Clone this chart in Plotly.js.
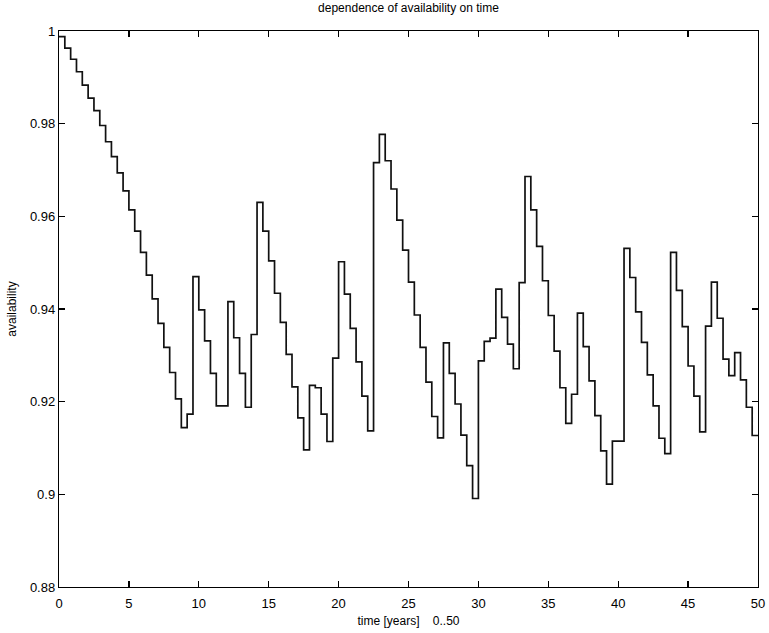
<!DOCTYPE html>
<html>
<head>
<meta charset="utf-8">
<script src="https://cdn.plot.ly/plotly-3.0.1.min.js"></script>
<style>html,body{margin:0;padding:0;background:#fff;}#chart{width:769px;height:633px;}</style>
</head>
<body>
<div id="chart"></div>
<script>
// availability level for each 5-month interval (120 intervals over 0..50 years)
const availability = [
  0.9988, 0.9963, 0.9939, 0.9912, 0.9883, 0.9855, 0.9828, 0.9796, 0.9761, 0.9729,
  0.9694, 0.9655, 0.9614, 0.9568, 0.9522, 0.9473, 0.9422, 0.9369, 0.9317, 0.9263,
  0.9206, 0.9144, 0.9173, 0.9470, 0.9398, 0.9331, 0.9261, 0.9191, 0.9191, 0.9416,
  0.9338, 0.9261, 0.9188, 0.9345, 0.9630, 0.9568, 0.9504, 0.9434, 0.9371, 0.9302,
  0.9232, 0.9165, 0.9096, 0.9235, 0.9230, 0.9173, 0.9114, 0.9294, 0.9502, 0.9432,
  0.9358, 0.9286, 0.9212, 0.9137, 0.9716, 0.9777, 0.9720, 0.9659, 0.9592, 0.9527,
  0.9458, 0.9387, 0.9317, 0.9242, 0.9168, 0.9122, 0.9327, 0.9261, 0.9195, 0.9128,
  0.9062, 0.8991, 0.9288, 0.9330, 0.9337, 0.9443, 0.9382, 0.9324, 0.9271, 0.9457,
  0.9686, 0.9614, 0.9535, 0.9461, 0.9386, 0.9309, 0.9230, 0.9153, 0.9216, 0.9391,
  0.9319, 0.9245, 0.9170, 0.9094, 0.9022, 0.9115, 0.9115, 0.9531, 0.9468, 0.9394,
  0.9328, 0.9258, 0.9191, 0.9121, 0.9088, 0.9522, 0.9440, 0.9362, 0.9277, 0.9212,
  0.9135, 0.9363, 0.9458, 0.9380, 0.9292, 0.9256, 0.9306, 0.9247, 0.9188, 0.9127
];
const tStart = 0;
const tEnd = 50;
const xTickVals = [0, 5, 10, 15, 20, 25, 30, 35, 40, 45, 50];
const xTickText = ["0", "5", "10", "15", "20", "25", "30", "35", "40", "45", "50"];
const yTickVals = [0.88, 0.90, 0.92, 0.94, 0.96, 0.98, 1.00];
const yTickText = ["0.88", "0.9", "0.92", "0.94", "0.96", "0.98", "1"];
const titleText = "dependence of availability on time";
const xTitle = "time [years]\u00A0\u00A0\u00A0\u00A00..50";
const yTitle = "availability";

// time grid: interval boundaries, last value held to the end
const n = availability.length;
const times = [];
for (let i = 0; i <= n; i++) times.push(tStart + (tEnd - tStart) * i / n);
const values = availability.concat([availability[n - 1]]);

const fam = "Liberation Sans, Arial, Helvetica, sans-serif";
const font = {family: fam, size: 13, color: "#000"};
const smallFont = {family: fam, size: 12, color: "#000"};

Plotly.newPlot("chart", [{
  x: times,
  y: values,
  type: "scatter",
  mode: "lines",
  line: {shape: "hv", color: "#111", width: 1.7},
  hoverinfo: "skip"
}], {
  width: 769,
  height: 633,
  margin: {l: 59, r: 11, t: 31, b: 46},
  paper_bgcolor: "#fff",
  plot_bgcolor: "#fff",
  showlegend: false,
  font: font,
  title: {text: titleText, font: smallFont,
          x: 0.5, xref: "paper", xanchor: "center", y: 0.987, yref: "container", yanchor: "middle"},
  xaxis: {
    range: [0, 50], tickvals: xTickVals, ticktext: xTickText,
    ticks: "inside", ticklen: 6, tickwidth: 1.2, tickcolor: "#000",
    showline: true, linecolor: "#000", linewidth: 1.2, mirror: "ticks",
    showgrid: false, zeroline: false,
    tickfont: font, ticklabelstandoff: 4,
    title: {text: xTitle, font: smallFont, standoff: 6}
  },
  yaxis: {
    range: [0.88, 1.0], tickvals: yTickVals, ticktext: yTickText,
    ticks: "inside", ticklen: 6, tickwidth: 1.2, tickcolor: "#000",
    showline: true, linecolor: "#000", linewidth: 1.2, mirror: "ticks",
    showgrid: false, zeroline: false,
    tickfont: font,
    title: {text: yTitle, font: smallFont, standoff: 10}
  }
}, {staticPlot: true, displayModeBar: false});
</script>
</body>
</html>
